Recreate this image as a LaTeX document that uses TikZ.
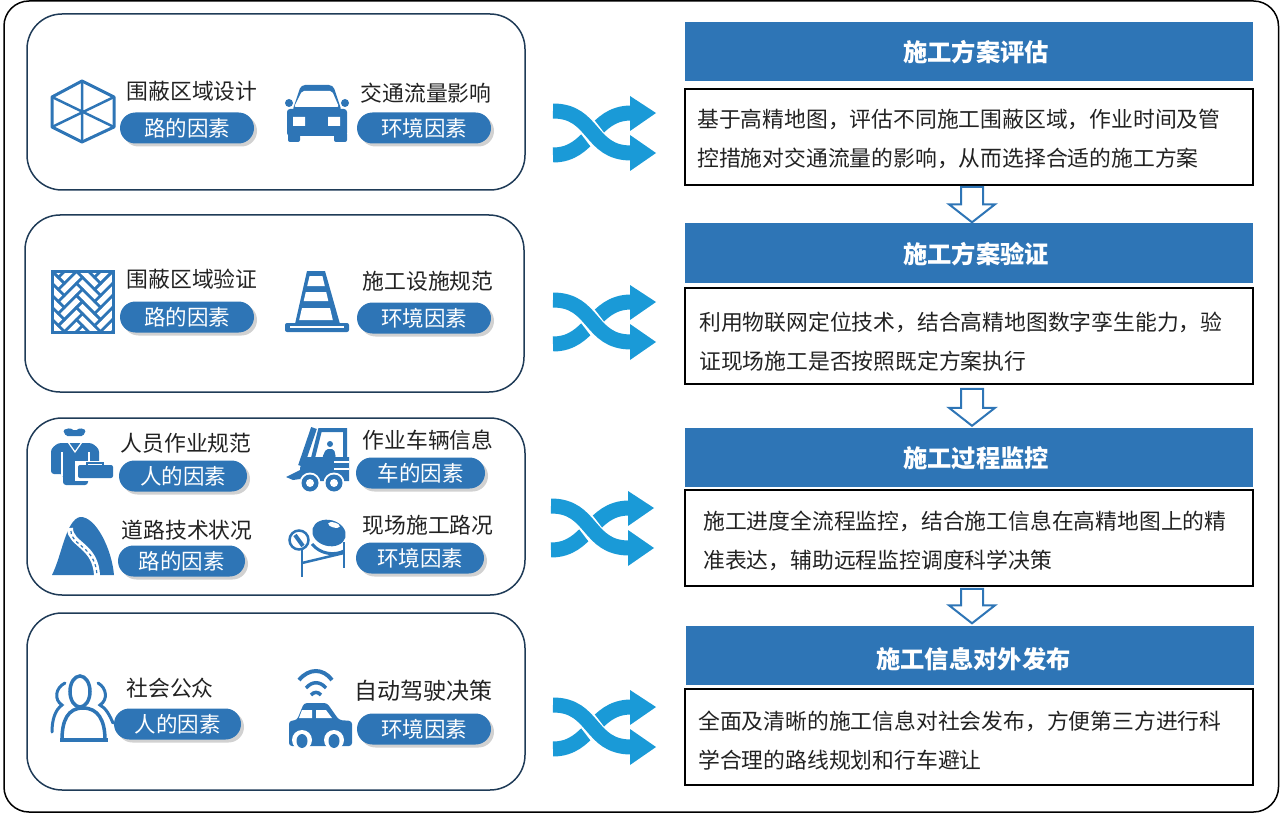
\documentclass[tikz,border=0pt]{standalone}
\usepackage{fontspec}
\setmainfont{Noto Sans CJK SC}
\usepackage{xcolor}
\usetikzlibrary{calc, shadows, shapes.misc}
\definecolor{iconblue}{HTML}{2E75B6}
\definecolor{flowblue}{HTML}{1A9AD7}
\definecolor{panelnavy}{HTML}{1F3B57}
\definecolor{inkgray}{HTML}{222222}

\tikzset{
    panel/.style = {draw=panelnavy, line width=1.5pt, rounded corners=35pt, inner sep=0pt},
    headbar/.style = {fill=iconblue, inner sep=0pt, minimum width=568pt, minimum height=59pt},
    headtext/.style = {text=white, inner sep=0pt, font=\fontsize{24.3}{28}\selectfont\bfseries},
    textbox/.style = {draw=black, line width=1.8pt, inner sep=0pt, minimum width=568pt, minimum height=96pt},
    boxtext/.style = {anchor=west, inner sep=0pt, align=left, text=inkgray, font=\fontsize{21.8}{39}\selectfont},
    factor/.style = {text=inkgray, inner sep=0pt, font=\fontsize{21.8}{26}\selectfont},
    pill/.style = {rounded rectangle, fill=iconblue, text=white, inner sep=0pt, minimum width=#1, minimum height=31pt,
        font=\fontsize{21.5}{26}\selectfont,
        general shadow={fill=black!45, opacity=0.4, shadow xshift=3pt, shadow yshift=-3pt}},
    pill/.default = 134pt,
    icon/.style = {fill=iconblue, draw=none},
    iconline/.style = {draw=iconblue, line width=#1, fill=none},
    iconline/.default = 3pt,
    flow/.style = {draw=iconblue, line width=2pt, fill=white, line join=miter,
        to path={let \p1=(\tikztostart), \p2=(\tikztotarget) in
            (\x1-11pt,\y1) -- (\x1+11pt,\y1) -- (\x1+11pt,\y2+18pt) -- (\x1+23pt,\y2+18pt) -- (\x1,\y2)
            -- (\x1-23pt,\y2+18pt) -- (\x1-11pt,\y2+18pt) -- cycle}},
    shuffle/.pic = {
        \draw[flowblue, line width=15pt] (0,59) .. controls (38,59) and (40,17) .. (78,17);
        \fill[flowblue] (77,0) -- (103,17) -- (77,35) -- cycle;
        \draw[white, line width=19pt] (17,19) .. controls (40,26) and (40,50) .. (62,55);
        \draw[flowblue, line width=15pt] (0,15) .. controls (42,15) and (36,57) .. (78,57);
        \fill[flowblue] (77,39) -- (103,57) -- (77,75) -- cycle;
    }
}

\begin{document}
\begin{tikzpicture}[x=1pt, y=-1pt]
    \useasboundingbox (0,0) rectangle (1280,813);
    \draw[black, line width=1.5pt, rounded corners=25pt] (4,1) rectangle (1278.5,812);

    % left panels
    \node[panel, minimum width=498pt, minimum height=176pt] (panelA) at (276,102) {};
    \node[panel, minimum width=499pt, minimum height=177pt] (panelB) at (274.5,303.5) {};
    \node[panel, minimum width=498pt, minimum height=177pt] (panelC) at (276,506.5) {};
    \node[panel, minimum width=498pt, minimum height=177pt] (panelD) at (276,701.5) {};

    % labels and pills
    \node[factor] (areaDesign) at (192,91) {围蔽区域设计};
    \node[pill] (areaDesignTag) at (187,128) {路的因素};
    \node[factor] (trafficFlow) at (426,93) {交通流量影响};
    \node[pill] (trafficFlowTag) at (424,128) {环境因素};

    \node[factor] (areaCheck) at (192,279) {围蔽区域验证};
    \node[pill] (areaCheckTag) at (187,317) {路的因素};
    \node[factor] (siteRule) at (428,281) {施工设施规范};
    \node[pill] (siteRuleTag) at (424,318) {环境因素};

    \node[factor] (staffRule) at (186,443) {人员作业规范};
    \node[pill=128pt] (staffRuleTag) at (183,476) {人的因素};
    \node[factor] (vehicleInfo) at (428,440) {作业车辆信息};
    \node[pill=129pt] (vehicleInfoTag) at (420.5,473) {车的因素};
    \node[factor] (roadState) at (187,530) {道路技术状况};
    \node[pill=127pt] (roadStateTag) at (181.5,561) {路的因素};
    \node[factor] (sitePath) at (428,525) {现场施工路况};
    \node[pill=128pt] (sitePathTag) at (420,558) {环境因素};

    \node[factor] (publicCrowd) at (170,688) {社会公众};
    \node[pill=127pt] (publicCrowdTag) at (177.5,724) {人的因素};
    \node[factor, font=\fontsize{23}{26}\selectfont] (autoDrive) at (423,691) {自动驾驶决策};
    \node[pill] (autoDriveTag) at (424,729) {环境因素};

    % icons
    \draw[iconline, line join=round] (82,81) -- (114,97) -- (114,127) -- (82,142) -- (52,127) -- (52,97) -- cycle;
    \draw[iconline=2.5pt] (82,81) -- (82,142) (52,97) -- (114,127) (52,127) -- (114,97);

    \fill[icon, rounded corners=3pt] (287,109) rectangle (347,136);
    \fill[icon, rounded corners=2pt] (288,132) rectangle (300,142);
    \fill[icon, rounded corners=2pt] (334,132) rectangle (347,142);
    \fill[icon, rounded corners=4pt] (292,112) -- (301,85) -- (333,85) -- (342,112) -- cycle;
    \fill[white, rounded corners=2pt] (294,107) -- (302,91) -- (332,91) -- (339,107) -- cycle;
    \fill[icon] (289,103) circle (4) (345,103) circle (4);
    \fill[white] (293,117) rectangle (305,126) (328,117) rectangle (340,126);

    \begin{scope}
        \clip (51,270) rectangle (114,333);
        \begin{scope}[shift={(82.5,301.5)}, rotate=-45]
            \foreach \a in {-9,...,9} {
                \foreach \b in {-9,...,9} {
                    \pgfmathtruncatemacro{\rem}{Mod(\a-\b,6)}
                    \ifnum\rem=0
                        \draw[iconline=2.5pt] (\a*8.5,\b*8.5) rectangle ++(25.5,8.5);
                    \fi
                    \ifnum\rem=5
                        \draw[iconline=2.5pt] (\a*8.5,\b*8.5) rectangle ++(8.5,25.5);
                    \fi
                }
            }
        \end{scope}
    \end{scope}
    \draw[iconline] (52,271) rectangle (113,332);

    \fill[icon] (307,271) -- (325,271) -- (340,324) -- (295,324) -- cycle;
    \fill[white] (309.6,276) -- (322.4,276) -- (324.8,286) -- (307.2,286) -- cycle;
    \fill[white] (305.8,292) -- (326.2,292) -- (328.3,301) -- (303.7,301) -- cycle;
    \fill[white] (302,308) -- (330,308) -- (332.8,320) -- (299.2,320) -- cycle;
    \fill[icon, rounded corners=2pt] (285,323) rectangle (349,332);
    \fill[white] (290,326) rectangle (344,328);

    \fill[icon, rounded corners=1.5pt] (63,430) -- (70,428) -- (75,431) -- (80,428) -- (86,430) -- (83,436) -- (66,436) -- cycle;
    \fill[icon, rounded corners=3pt] (51,474) -- (51,449) -- (58,443) -- (92,443) -- (99,449) -- (99,465) -- (88,465) -- (88,485) -- (63,485) -- (63,474) -- cycle;
    \draw[white, line width=1.2pt] (68,442) -- (75,452) -- (82,442);
    \draw[white, line width=1.3pt] (62,452) -- (62,476) (89,452) -- (89,465);
    \fill[white] (75,461) rectangle (115,481);
    \fill[icon, rounded corners=2pt] (78,465) rectangle (113,478);
    \draw[iconline=1.5pt] (87,465) -- (87,463) -- (103,463) -- (103,465);

    \draw[iconline=6pt] (314,428) -- (301,466);
    \draw[iconline=4pt] (313,458) -- (320,430) -- (345,430) -- (345,458);
    \fill[icon] (330,444) circle (3);
    \fill[icon, rounded corners=2pt] (326,449) -- (334,449) -- (336,458) -- (322,458) -- cycle;
    \fill[icon] (300,468) -- (304,457) -- (349,457) -- (349,481) -- (300,481) -- cycle;
    \draw[white, line width=1.3pt] (334,462) -- (349,462) (334,469) -- (349,469);
    \fill[icon] (286,477) -- (302,469) -- (307,478) -- (293,480) -- cycle;
    \fill[white] (310,483) circle (10.5) (334,483) circle (10.5);
    \fill[icon] (310,483) circle (8.5) (334,483) circle (8.5);
    \fill[white] (310,483) circle (4) (334,483) circle (4);

    \fill[icon] (52,575) .. controls (62,555) and (66,520) .. (80,517) .. controls (96,516) and (112,550) .. (114,575) -- cycle;
    \draw[white, line width=6pt] (70,528) .. controls (70,545) and (96,545) .. (97,576);
    \draw[icon, iconline=1.2pt, dashed] (71,531) .. controls (71,546) and (96,546) .. (97,576);

    \fill[icon, rotate around={-15:(329,533)}] (329,533) ellipse (17 and 13);
    \fill[white, rotate around={-15:(334,525)}] (334,525) ellipse (6 and 2.5);
    \draw[iconline=3pt] (312,544) .. controls (320,554) and (334,556) .. (344,551);
    \draw[iconline=2.5pt] (299,540) circle (9.5);
    \draw[iconline=4pt] (295,535) -- (303,546);
    \draw[iconline=2.5pt] (302,550) -- (302,577);
    \draw[iconline=2.5pt] (344,542) -- (344,568);
    \draw[iconline=2.5pt] (302,563) -- (344,553);

    \draw[iconline=3.5pt] (80,691.5) ellipse (10 and 15.5);
    \draw[iconline=3.5pt] (62,740) .. controls (62,720) and (68,708) .. (83,708) .. controls (98,708) and (105,720) .. (105,740);
    \draw[iconline=4pt] (60,740) -- (108,740);
    \draw[iconline, line cap=round] (65,683) .. controls (55,688) and (54,700) .. (62,705) .. controls (55,710) and (52,720) .. (52,732);
    \draw[iconline, line cap=round] (98,683) .. controls (107,688) and (108,700) .. (100,705) .. controls (106,708) and (110,716) .. (113,723);

    \draw[iconline=4pt] (299,680) .. controls (309,668) and (323,668) .. (332,680);
    \draw[iconline=3.5pt] (306,688) .. controls (312,681) and (320,681) .. (326,688);
    \draw[iconline=3.5pt] (311,695) .. controls (314,691.5) and (318,691.5) .. (321,695);
    \fill[icon, rounded corners=3pt] (297,720) -- (304,703) -- (327,703) -- (339,720) -- (352,721) -- (352,746) -- (289,746) -- (289,721) -- cycle;
    \fill[white] (302,710) -- (312,710) -- (312,718) -- (299,718) -- cycle;
    \fill[white] (316,710) -- (326,710) -- (332,718) -- (316,718) -- cycle;
    \fill[white] (302,740) circle (10) (334,740) circle (10);
    \fill[icon] (302,741) ellipse (5.5 and 7) (334,741) ellipse (5.5 and 7);

    % shuffle arrows
    \pic at (553,96) {shuffle};
    \pic at (553,285) {shuffle};
    \pic at (551,491) {shuffle};
    \pic at (553,690) {shuffle};

    % right column
    \node[headbar] (headA) at (968.5,51.5) {};
    \node[headtext] (titleA) at (976,52) {施工方案评估};
    \node[textbox] (boxA) at (969,137) {};
    \node[boxtext] (textA) at (697,139)
        {基于高精地图，评估不同施工围蔽区域，作业时间及管\\控措施对交通流量的影响，从而选择合适的施工方案};
    \node[headbar] (headB) at (969,253) {};
    \node[headtext] (titleB) at (976,254) {施工方案验证};
    \node[textbox] (boxB) at (969,336) {};
    \node[boxtext] (textB) at (699,342)
        {利用物联网定位技术，结合高精地图数字孪生能力，验\\证现场施工是否按照既定方案执行};
    \node[headbar] (headC) at (969,457.5) {};
    \node[headtext] (titleC) at (976,458) {施工过程监控};
    \node[textbox] (boxC) at (969,538) {};
    \node[boxtext] (textC) at (703,541)
        {施工进度全流程监控，结合施工信息在高精地图上的精\\准表达，辅助远程监控调度科学决策};
    \node[headbar] (headD) at (969.5,655) {};
    \node[headtext] (titleD) at (973.5,659) {施工信息对外发布};
    \node[textbox] (boxD) at (969,737) {};
    \node[boxtext] (textD) at (698,741)
        {全面及清晰的施工信息对社会发布，方便第三方进行科\\学合理的路线规划和行车避让};

    % flow between steps
    \draw[flow] ([xshift=3pt,yshift=-1pt]boxA.south) to ([xshift=3pt,yshift=1pt]headB.north);
    \draw[flow] ([xshift=3pt,yshift=-4pt]boxB.south) to ([xshift=3pt,yshift=2pt]headC.north);
    \draw[flow] ([xshift=3pt,yshift=-2pt]boxC.south) to ([xshift=3pt,yshift=2pt]headD.north);
\end{tikzpicture}
\end{document}
